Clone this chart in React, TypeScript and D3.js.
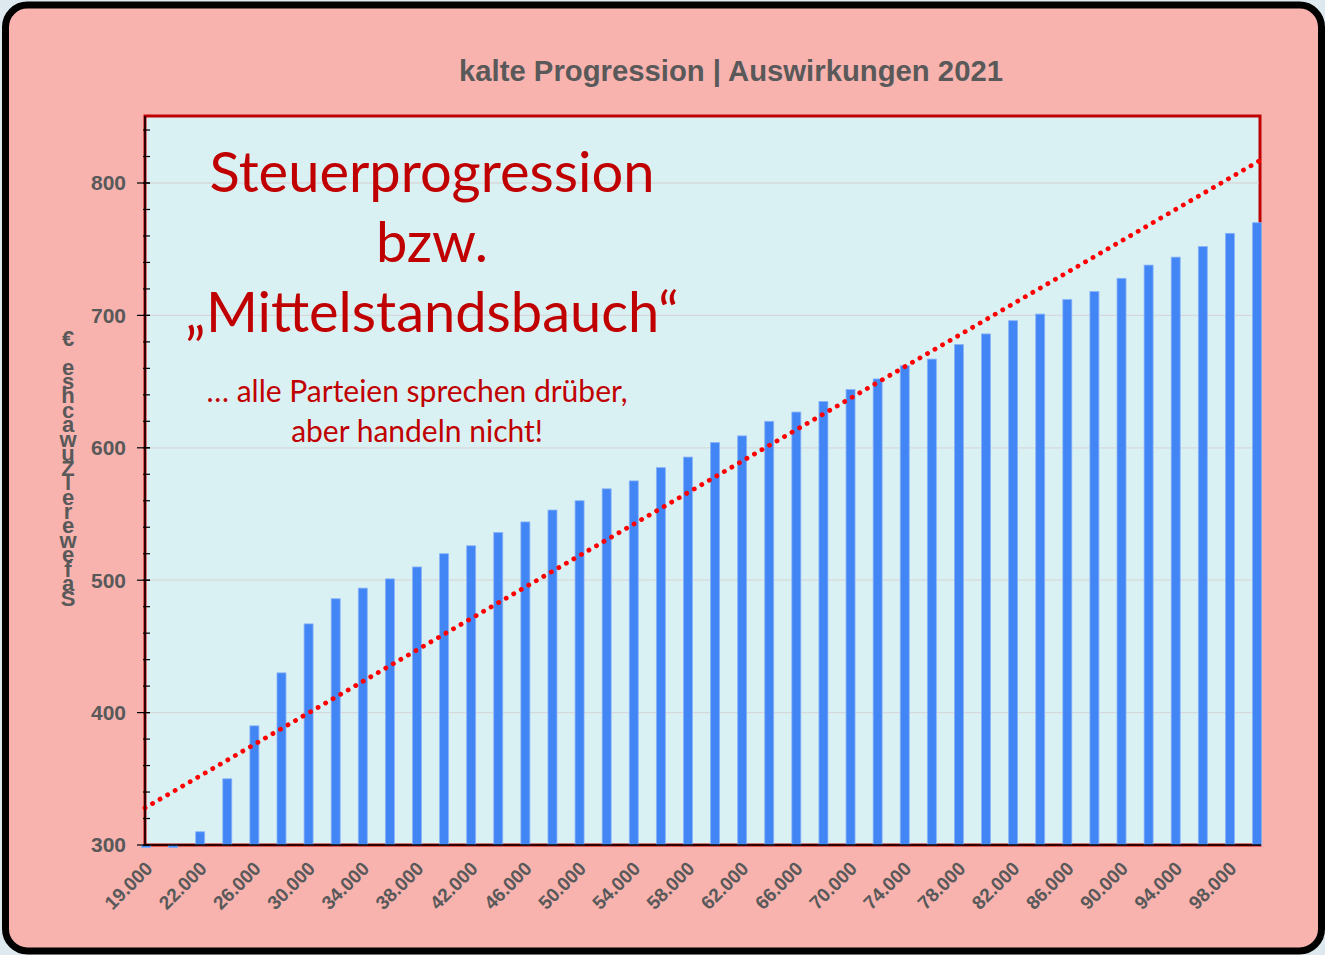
import React from 'react';
import * as d3 from 'd3';

// ---- data ----
const incomes = [
  19000, 20000, 22000, 24000, 26000, 28000, 30000, 32000, 34000, 36000,
  38000, 40000, 42000, 44000, 46000, 48000, 50000, 52000, 54000, 56000,
  58000, 60000, 62000, 64000, 66000, 68000, 70000, 72000, 74000, 76000,
  78000, 80000, 82000, 84000, 86000, 88000, 90000, 92000, 94000, 96000,
  98000, 100000,
];
const taxIncrease = [
  298, 298, 310, 350, 390, 430, 467, 486, 494, 501,
  510, 520, 526, 536, 544, 553, 560, 569, 575, 585,
  593, 604, 609, 620, 627, 635, 644, 652, 662, 667,
  678, 686, 696, 701, 712, 718, 728, 738, 744, 752,
  762, 770,
];
const xTickLabels = [
  '19.000', '22.000', '26.000', '30.000', '34.000', '38.000', '42.000',
  '46.000', '50.000', '54.000', '58.000', '62.000', '66.000', '70.000',
  '74.000', '78.000', '82.000', '86.000', '90.000', '94.000', '98.000',
];
const yTicks = [300, 400, 500, 600, 700, 800];
const trendStart = 328; // value of the linear trend at the first category
const trendEnd = 817; // value of the linear trend at the last category

const chartTitle = 'kalte Progression | Auswirkungen 2021';
const yTitleStacked = '€ eshcawuZlerewefaS';
const headline = ['Steuerprogression', 'bzw.', '„Mittelstandsbauch“'];
const subline = ['… alle Parteien sprechen drüber,', 'aber handeln nicht!'];

// ---- layout ----
const W = 1325;
const H = 955;
const plot = { left: 145, right: 1260, top: 116, bottom: 845 };

const fmt = d3.formatLocale({ decimal: ',', thousands: '.', grouping: [3], currency: ['', '€'] }).format(',');

export default function App() {
  const cats = incomes.map((d) => String(d));
  const x = d3.scalePoint<string>().domain(cats).range([146, 1257]).padding(0);
  const y = d3.scaleLinear().domain([300, 850.6]).range([plot.bottom, plot.top]);
  const minorTicks = d3.range(300, 850, 20);
  const grey = '#595959';
  const red = '#c00000';
  const barW = 9;

  const trendLine = d3.line<[number, number]>().x((d) => d[0]).y((d) => y(d[1]));
  const trendPts: [number, number][] = [
    [plot.left, trendStart],
    [plot.right, trendEnd],
  ];

  const yTitleTop = 338;
  const yTitleBottom = 598;
  const yStep = (yTitleBottom - yTitleTop) / (yTitleStacked.length - 1);

  return (
    <svg width={W} height={H} style={{ position: 'absolute', left: 0, top: 0 }} fontFamily="'Liberation Sans', Arial, sans-serif">
      <rect x={0} y={0} width={W} height={H} fill="#dde9ee" />
      <rect x={5.5} y={5} width={1316} height={946} rx={22} ry={22} fill="#f8b3af" stroke="#000" strokeWidth={7} />

      <text x={731} y={81} textAnchor="middle" fontSize={29} fontWeight="bold" fill={grey} textLength={544} lengthAdjust="spacingAndGlyphs">
        {chartTitle}
      </text>

      {/* plot background */}
      <rect x={plot.left} y={plot.top} width={plot.right - plot.left} height={plot.bottom - plot.top} fill="#daf1f4" stroke={red} strokeWidth={3} />

      {/* gridlines */}
      {yTicks.slice(1).map((t) => (
        <line key={'g' + t} x1={plot.left} x2={plot.right - 1.5} y1={y(t)} y2={y(t)} stroke="#d6d9da" strokeWidth={1.3} />
      ))}

      {/* annotation */}
      <g fontFamily="Lato, 'Open Sans', sans-serif" fill={red} textAnchor="middle">
        {headline.map((s, i) => (
          <text key={s} x={432} y={192 + i * 70} fontSize={56}>
            {s}
          </text>
        ))}
        {subline.map((s, i) => (
          <text key={s} x={417} y={402 + i * 40} fontSize={30}>
            {s}
          </text>
        ))}
      </g>

      {/* bars */}
      {taxIncrease.map((v, i) => {
        const cx = x(cats[i]) as number;
        const y0 = y(Math.max(v, 300));
        const y1 = y(Math.min(v, 300));
        return (
          <rect key={i} x={cx - barW / 2} y={y0} width={barW} height={Math.max(y1 - y0, 1.5)} fill="#4285f4" stroke="#8ab4f8" strokeWidth={0.8} />
        );
      })}

      {/* trend line */}
      <path d={trendLine(trendPts) as string} fill="none" stroke="#ff0000" strokeWidth={4.8} strokeLinecap="round" strokeDasharray="0.1 8.6" />

      {/* axes */}
      <line x1={plot.left} x2={plot.left} y1={plot.top} y2={plot.bottom + 1} stroke="#000" strokeWidth={1.5} />
      <line x1={plot.left} x2={plot.right + 1} y1={plot.bottom} y2={plot.bottom} stroke="#000" strokeWidth={1.5} />
      {minorTicks.map((t) => (
        <line key={'m' + t} x1={plot.left - 2} x2={plot.left + 5} y1={y(t)} y2={y(t)} stroke="#000" strokeWidth={1.2} />
      ))}
      {yTicks.map((t) => (
        <g key={'t' + t}>
          <line x1={plot.left - 8} x2={plot.left + 5} y1={y(t)} y2={y(t)} stroke="#000" strokeWidth={1.2} />
          <text x={126} y={y(t)} dy="0.35em" textAnchor="end" fontSize={21} fontWeight="bold" fill={grey}>
            {t}
          </text>
        </g>
      ))}

      {/* x labels */}
      {cats.map((c, i) => {
        const label = fmt(+c);
        if (!xTickLabels.includes(label)) return null;
        const cx = x(c) as number;
        return (
          <text key={'x' + c} transform={`translate(${cx + 3},${plot.bottom + 20}) rotate(-45)`} textAnchor="end" dy="0.35em" fontSize={19} fontWeight="bold" fill={grey}>
            {label}
          </text>
        );
      })}

      {/* y title (stacked letters) */}
      <g fontSize={22} fontWeight="bold" fill={grey} textAnchor="middle">
        {yTitleStacked.split('').map((ch, i) => (
          <text key={'yt' + i} x={68} y={yTitleTop + i * yStep} dy="0.35em">
            {ch}
          </text>
        ))}
      </g>
    </svg>
  );
}
